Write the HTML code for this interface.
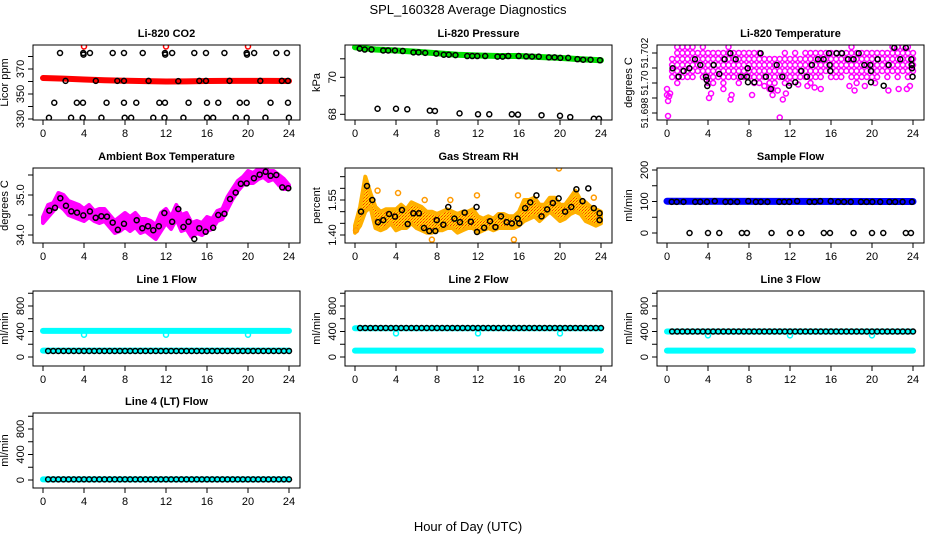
<!DOCTYPE html>
<html><head><meta charset="utf-8">
<style>
html,body{margin:0;padding:0;background:#fff;}
svg{display:block;font-family:"Liberation Sans",sans-serif;}
</style></head>
<body>
<svg id="fig" width="936" height="540" viewBox="0 0 936 540" xmlns="http://www.w3.org/2000/svg">
<defs>
<pattern id="rhpat" width="3" height="3" patternUnits="userSpaceOnUse">
<rect width="3" height="3" fill="#ffd400"/><rect width="1" height="1" fill="#ff2a00"/><rect x="1" y="2" width="1" height="1" fill="#ff4a00"/><rect x="2" y="1" width="1" height="1" fill="#ff8000"/>
</pattern>
</defs>
<text x="468" y="14" text-anchor="middle" font-size="13">SPL_160328  Average Diagnostics</text>
<text x="468" y="531" text-anchor="middle" font-size="13">Hour of Day (UTC)</text>
</svg>
<script>
// ---------- data ----------
var xTicks=[0,4,8,12,16,20,24];
// CO2
var co2BandHours=[0,2,4,6,8,10,12,14,16,18,20,22,24];
var co2BandVals=[362.8,362.3,361.6,361.0,360.6,360.3,360.0,360.1,360.4,360.5,360.5,360.5,360.4];
var co2PtHours=[1.66,3.93,3.95,4.58,6.8,7.9,9.73,11.9,11.92,12.6,14.76,15.9,17.7,19.87,19.9,20.6,22.76,23.8,
 2.2,5.15,7.25,7.9,10.3,13.2,15.25,15.9,18.2,21.2,23.3,23.9,
 1.1,3.3,3.9,6.2,7.9,9.1,11.35,11.9,14.2,16.0,17.1,19.2,19.87,22.2,23.9,
 0.58,2.74,3.87,5.7,7.97,8.6,10.76,11.85,13.7,16.0,16.6,18.8,19.87,21.7,23.99];
var co2PtVals=[382.8,382.8,381.5,382.8,382.8,382.8,382.8,382.8,381.5,382.8,382.8,382.8,382.8,382.8,381.5,382.8,382.8,382.8,
 360.5,360.5,360.5,360.5,360.5,360.3,360.5,360.5,360.5,360.5,360.5,360.5,
 343,343,343,343,343,343,343,343,343,343,343,343,343,343,343,
 331,331,331,331,331,331,331,331,331,331,331,331,331,331,331];
var co2RedHours=[4,12,20];
var co2RedVals=[388,388,388];
// Pressure
var presBandHours=[0,2,4,6,8,10,12,14,16,18,20,22,24];
var presBandVals=[71.62,71.5,71.45,71.38,71.3,71.22,71.18,71.15,71.15,71.1,71.05,70.98,70.92];
var presPtHours=[0.46,0.95,1.61,2.75,3.24,3.9,4.66,5.7,6.2,6.85,7.93,8.66,9.15,9.8,10.95,11.44,11.93,12.7,13.9,14.4,14.95,15.97,16.7,17.27,17.93,18.92,19.47,20.03,20.8,21.7,22.26,22.98,23.9,
 2.2,4.0,5.1,7.3,7.8,10.2,12.0,13.1,15.3,15.9,18.2,20.0,21.0,23.3,23.8];
var presPtVals=[71.55,71.5,71.5,71.45,71.45,71.45,71.42,71.35,71.35,71.32,71.28,71.22,71.22,71.2,71.15,71.15,71.15,71.15,71.12,71.12,71.15,71.15,71.13,71.12,71.12,71.08,71.08,71.05,71.05,70.98,70.95,70.95,70.92,
 68.3,68.3,68.27,68.2,68.18,68.05,68.0,68.0,68.0,67.98,67.95,67.92,67.85,67.76,67.76];
// Li-820 temperature
var tempHours=[0,0.5,1,1.5,2,2.5,3,3.5,4,4.5,5,5.5,6,6.5,7,7.5,8,8.5,9,9.5,10,10.5,11,11.5,12,12.5,13,13.5,14,14.5,15,15.5,16,16.5,17,17.5,18,18.5,19,19.5,20,20.5,21,21.5,22,22.5,23,23.5,24];
var tempLo=[51.6992,51.7004,51.7000,51.7004,51.7004,51.7004,51.7008,51.7004,51.7000,51.7000,51.7004,51.7000,51.7004,51.7004,51.7000,51.7004,51.7004,51.7000,51.7000,51.7004,51.6996,51.7000,51.7004,51.7000,51.7000,51.7004,51.7004,51.7004,51.7000,51.7004,51.7004,51.7008,51.7004,51.7004,51.7004,51.7008,51.7004,51.7000,51.7004,51.7004,51.7004,51.7004,51.7008,51.7004,51.7008,51.7004,51.7008,51.7004,51.7008];
var tempHi=[51.6996,51.7016,51.7024,51.7024,51.7024,51.7024,51.7020,51.7024,51.7020,51.7020,51.7020,51.7020,51.7024,51.7020,51.7020,51.7020,51.7020,51.7020,51.7020,51.7016,51.7016,51.7016,51.7016,51.7020,51.7016,51.7020,51.7016,51.7020,51.7020,51.7020,51.7020,51.7020,51.7020,51.7020,51.7020,51.7020,51.7024,51.7020,51.7020,51.7020,51.7020,51.7020,51.7020,51.7020,51.7024,51.7024,51.7024,51.7024,51.7020];
var tempOutHours=[0.1,0.2,0.3,0.1,4.3,4.1,5.5,6.3,6.2,8.3,9.5,10.3,10.3,11.0,11.3,11.6,10.8,14.4,15.0,17.8,18.3,19.3,21.6,22.6,23.4,23.7,20.3,12.8,13.7];
var tempOutVals=[51.6978,51.6991,51.6993,51.6988,51.6993,51.6990,51.6996,51.6992,51.6989,51.6992,51.6998,51.6996,51.6992,51.6977,51.6989,51.6993,51.6995,51.6997,51.6996,51.6998,51.6995,51.6998,51.6995,51.6996,51.6996,51.6998,51.7000,51.6999,51.6998];
var tempPtHours=[0.55,1.13,1.62,2.18,2.73,3.25,3.8,3.87,3.93,4.55,5.1,5.62,6.18,6.7,7.22,7.8,7.87,7.9,8.52,9.13,9.65,10.14,10.7,11.25,11.9,12.52,13.1,13.65,14.14,14.73,15.28,15.8,15.87,15.93,16.55,17.07,17.66,18.2,18.7,19.25,19.83,19.9,19.9,20.55,21.14,21.62,22.18,22.76,23.3,23.84,23.87,23.9,23.96];
var tempPtVals=[51.70098,51.70042,51.7008,51.70098,51.70158,51.7012,51.70042,51.7002,51.6998,51.7012,51.7006,51.70158,51.70198,51.70158,51.70042,51.70042,51.70098,51.70005,51.70005,51.70198,51.70042,51.6996,51.7012,51.70042,51.69982,51.70005,51.7008,51.70042,51.7012,51.70158,51.70158,51.70198,51.7012,51.7008,51.70198,51.70198,51.70158,51.70158,51.70198,51.7012,51.7012,51.7008,51.70005,51.70158,51.69982,51.7012,51.70235,51.70158,51.70235,51.70158,51.7012,51.70098,51.70042];
// Ambient box temperature
var ambHours=tempHours;
var ambLo=[34.3,34.45,34.6,34.75,34.65,34.5,34.45,34.4,34.35,34.45,34.35,34.3,34.35,34.2,34.05,34.1,34.2,34.1,34.2,34.05,34.1,34.0,33.9,34.1,34.3,34.15,34.4,34.1,34.15,33.95,34.05,34.0,34.1,34.15,34.35,34.4,34.65,34.9,35.1,35.25,35.3,35.3,35.4,35.45,35.35,35.4,35.25,35.15,35.15];
var ambHi=[34.45,34.75,34.8,35.05,35.0,34.85,34.8,34.75,34.65,34.75,34.6,34.65,34.65,34.5,34.35,34.45,34.55,34.45,34.55,34.4,34.4,34.35,34.25,34.55,34.65,34.45,34.75,34.5,34.55,34.3,34.35,34.3,34.45,34.4,34.6,34.65,34.95,35.15,35.35,35.45,35.6,35.55,35.65,35.7,35.6,35.6,35.5,35.4,35.25];
var ambPtHours=[0.62,1.17,1.69,2.24,2.76,3.32,3.93,4.58,5.14,5.69,6.24,6.8,7.3,7.9,9.14,9.69,10.24,10.76,11.3,11.84,12.6,13.2,13.7,14.2,14.76,15.25,15.87,16.6,17.1,17.7,18.25,18.8,19.3,19.87,20.58,21.14,21.72,22.2,22.76,23.34,23.93];
var ambPtVals=[34.61,34.68,34.92,34.73,34.59,34.56,34.49,34.59,34.43,34.47,34.46,34.31,34.13,34.28,34.37,34.17,34.22,34.12,34.22,34.55,34.33,34.65,34.2,34.33,33.9,34.17,34.08,34.18,34.5,34.53,34.9,35.06,35.28,35.29,35.42,35.51,35.58,35.48,35.5,35.19,35.17];
// Gas stream RH
var rhHours=tempHours;
var rhLo=[1.41,1.44,1.50,1.52,1.43,1.42,1.43,1.45,1.42,1.43,1.43,1.45,1.43,1.42,1.41,1.41,1.42,1.42,1.43,1.43,1.41,1.42,1.43,1.43,1.41,1.42,1.43,1.42,1.43,1.43,1.43,1.43,1.44,1.46,1.47,1.48,1.46,1.48,1.50,1.48,1.46,1.47,1.49,1.50,1.49,1.46,1.45,1.44,1.45];
var rhHi=[1.44,1.52,1.65,1.58,1.52,1.50,1.51,1.51,1.51,1.53,1.51,1.54,1.53,1.52,1.50,1.50,1.49,1.50,1.51,1.50,1.49,1.50,1.50,1.51,1.48,1.47,1.48,1.47,1.49,1.49,1.48,1.48,1.50,1.55,1.55,1.56,1.53,1.53,1.56,1.56,1.53,1.53,1.56,1.59,1.55,1.54,1.52,1.51,1.50];
var rhOutHours=[4.2,11.9,15.9,19.9,9.3,15.5,7.5,23.3,0.1,2.2,6.8];
var rhOutVals=[1.58,1.57,1.57,1.685,1.55,1.38,1.38,1.56,1.42,1.59,1.55];
var rhPtHours=[0.59,1.17,1.69,2.24,2.76,3.32,3.9,4.58,5.14,5.69,6.24,6.73,7.25,7.84,7.97,8.62,9.1,9.7,10.24,10.7,11.3,11.86,11.9,12.6,13.17,13.7,14.24,14.8,15.3,15.87,16.03,16.6,17.1,17.7,18.2,18.75,19.3,19.87,20.5,21.1,21.6,22.2,22.76,23.3,23.86,23.86];
var rhPtVals=[1.50,1.61,1.55,1.455,1.464,1.49,1.479,1.507,1.447,1.493,1.493,1.43,1.417,1.417,1.464,1.444,1.52,1.47,1.455,1.496,1.457,1.52,1.413,1.431,1.459,1.434,1.48,1.455,1.45,1.47,1.45,1.515,1.54,1.57,1.48,1.51,1.537,1.557,1.50,1.52,1.596,1.545,1.60,1.515,1.493,1.464];
// Sample flow
var sfBandHours=[0,24];
var sfBandVals=[101,100];
var sfPtHours=[0.46,0.95,1.61,2.75,3.24,3.9,4.66,5.7,6.2,6.85,7.93,8.66,9.15,9.8,10.95,11.44,11.93,12.7,13.9,14.4,14.95,15.97,16.7,17.27,17.93,18.92,19.47,20.03,20.8,21.7,22.26,22.98,23.9,
 2.2,4.0,5.1,7.3,7.8,10.2,12.0,13.1,15.3,15.9,18.2,20.0,21.1,23.3,23.8];
var sfPtVals=[99,99,99,99,99,99,101,99,99,99,101,99,99,99,99,99,99,101,99,99,101,101,99,99,99,99,99,99,99,99,99,99,99,
 0,0,0,0,0,0,0,0,0,0,0,0,0,0,0];
// Line flows
var flowHours=[0.5,1,1.5,2,2.5,3,3.5,4,4.5,5,5.5,6,6.5,7,7.5,8,8.5,9,9.5,10,10.5,11,11.5,12,12.5,13,13.5,14,14.5,15,15.5,16,16.5,17,17.5,18,18.5,19,19.5,20,20.5,21,21.5,22,22.5,23,23.5,24];
var line1Vals=[95,95,95,95,95,95,95,95,95,95,95,95,95,95,95,95,95,95,95,95,95,95,95,95,95,95,95,95,95,95,95,95,95,95,95,95,95,95,95,95,95,95,95,95,95,95,95,95];
var line2Vals=[455,455,455,455,455,455,455,455,455,455,455,455,455,455,455,455,455,455,455,455,455,455,455,455,455,455,455,455,455,455,455,455,455,455,455,455,455,455,455,455,455,455,455,455,455,455,455,455];
var line3Vals=[400,400,400,400,400,400,400,400,400,400,400,400,400,400,400,400,400,400,400,400,400,400,400,400,400,400,400,400,400,400,400,400,400,400,400,400,400,400,400,400,400,400,400,400,400,400,400,400];
var line4Vals=[10,10,10,10,10,10,10,10,10,10,10,10,10,10,10,10,10,10,10,10,10,10,10,10,10,10,10,10,10,10,10,10,10,10,10,10,10,10,10,10,10,10,10,10,10,10,10,10];
var cyanHours=[0,24];
var line1CyanHi=[410,410];
var line1CyanLo=[100,100];
var line2CyanHi=[450,450];
var line2CyanLo=[100,100];
var line3CyanHi=[400,400];
var line3CyanLo=[100,100];
var line4CyanLo=[10,10];
var dipHours=[4,12,20];
var line1Dips=[350,350,350];
var line2Dips=[370,370,370];
var line3Dips=[340,340,340];

// ---------- drawing ----------
var NS="http://www.w3.org/2000/svg";
var fig=document.getElementById('fig');
function mk(tag,attrs,parent){var e=document.createElementNS(NS,tag);for(var k in attrs)e.setAttribute(k,attrs[k]);(parent||fig).appendChild(e);return e;}
var colL=[33,345,657], rowT=[45,168,291,413], PW=267, PH=75;
var pid=0;
function panel(col,row,title,ylab,v0,y0,v1,y1,yt,ylabels,slug,tfs){
  var L=colL[col],T=rowT[row];
  var fs=tfs||11;
  var g=mk('g',{});
  
  
  pid++;
  var cp=mk('clipPath',{id:'cp'+pid},g);
  mk('rect',{x:L,y:T,width:PW,height:PH},cp);
  var sx=function(h){return L+10+h*10.25;};
  var sy=function(v){return T+y0+(v-v0)*(y1-y0)/(v1-v0);};
  var t=mk('text',{x:L+PW/2,y:T-8,'text-anchor':'middle','font-size':'11','font-weight':'bold'},g);
  t.textContent=title;
  
  
  var yl=mk('text',{x:0,y:0,transform:'translate('+(L-25)+','+(T+PH/2)+') rotate(-90)','text-anchor':'middle','font-size':'11'},g);
  yl.textContent=ylab;
  
  
  var B=T+PH;
  for(var i=0;i<xTicks.length;i++){
    var x=sx(xTicks[i]);
    mk('line',{x1:x,y1:B,x2:x,y2:B+5,stroke:'#000','stroke-width':1},g);
    var tl=mk('text',{x:x,y:B+17,'text-anchor':'middle','font-size':'11'},g);
    tl.textContent=xTicks[i];
    
    
  }
  for(var j=0;j<yt.length;j++){
    var y=sy(yt[j]);
    if(y<T-1||y>B+1)continue;
    mk('line',{x1:L-5,y1:y,x2:L,y2:y,stroke:'#000','stroke-width':1},g);
    if(ylabels[j]!==''){
      var yl2=mk('text',{x:0,y:0,transform:'translate('+(L-9)+','+y+') rotate(-90)','text-anchor':'middle','font-size':fs},g);
      yl2.textContent=ylabels[j];
      
      
    }
  }
  var plot=mk('g',{'clip-path':'url(#cp'+pid+')'},g);
  var box=mk('rect',{x:L,y:T,width:PW,height:PH,fill:'none',stroke:'#000','stroke-width':1},g);
  
  
  return {sx:sx,sy:sy,g:plot,box:box,parent:g};
}
function pts(p,hs,vs,color,name){
  for(var i=0;i<hs.length;i++){
    var c=mk('circle',{cx:p.sx(hs[i]),cy:p.sy(vs[i]),r:2.5,fill:'none',stroke:color,'stroke-width':1.5},p.g);
    
    
  }
}
function band(p,hs,vs,color,w,name){
  var d='';
  for(var i=0;i<hs.length;i++)d+=(i?'L':'M')+p.sx(hs[i]).toFixed(1)+' '+p.sy(vs[i]).toFixed(1);
  var e=mk('path',{d:d,fill:'none',stroke:color,'stroke-width':w,'stroke-linecap':'round','stroke-linejoin':'round'},p.g);
  
  
}
function area(p,hs,lo,hi,fill,stroke,name){
  var d='';
  for(var i=0;i<hs.length;i++)d+=(i?'L':'M')+p.sx(hs[i]).toFixed(1)+' '+p.sy(hi[i]).toFixed(1);
  for(var k=hs.length-1;k>=0;k--)d+='L'+p.sx(hs[k]).toFixed(1)+' '+p.sy(lo[k]).toFixed(1);
  d+='Z';
  var e=mk('path',{d:d,fill:fill,stroke:stroke,'stroke-width':4,'stroke-linejoin':'round'},p.g);
  
  
}

// Panel 1: CO2
var p1=panel(0,0,'Li-820 CO2','Licor ppm',330,74,370,24,[330,340,350,360,370,380],['330','','350','','370',''],'co2');
band(p1,co2BandHours,co2BandVals,'#ff0000',6,'co2-red-series');
pts(p1,co2RedHours,co2RedVals,'#ff0000','co2-red-point');
pts(p1,co2PtHours,co2PtVals,'#000','co2-black-point');
// Panel 2: Pressure
var p2=panel(1,0,'Li-820 Pressure','kPa',68,69.3,70,32.3,[68,69,70,71],['68','','70',''],'pressure');
band(p2,presBandHours,presBandVals,'#00e000',6,'pressure-green-series');
pts(p2,presPtHours,presPtVals,'#000','pressure-black-point');
// Panel 3: Li-820 Temperature
var p3=panel(2,0,'Li-820 Temperature','degrees C',51.698,68,51.702,8,[51.697,51.698,51.699,51.700,51.701,51.702],['','51.698','','51.70','','51.702'],'li820-temp',10);
for(var i=0;i<tempHours.length;i++){
  for(var v=tempLo[i];v<=tempHi[i]+1e-7;v+=0.0004){
    var c=mk('circle',{cx:p3.sx(tempHours[i]),cy:p3.sy(v),r:2.5,fill:'none',stroke:'#ff00ff','stroke-width':1.5},p3.g);
    
    
  }
}
pts(p3,tempOutHours,tempOutVals,'#ff00ff','temp-magenta-outlier');
pts(p3,tempPtHours,tempPtVals,'#000','temp-black-point');
// Panel 4: Ambient
var p4=panel(0,1,'Ambient Box Temperature','degrees C',34,67,35,27,[34,34.5,35,35.5],['34.0','','35.0',''],'ambient-temp');
area(p4,ambHours,ambLo,ambHi,'#ff00ff','#ff00ff','ambient-magenta-series');
pts(p4,ambPtHours,ambPtVals,'#000','ambient-black-point');
// Panel 5: RH
var p5=panel(1,1,'Gas Stream RH','percent',1.40,67,1.55,32,[1.40,1.45,1.50,1.55,1.60,1.65],['1.40','','','1.55','',''],'gas-rh');
area(p5,rhHours,rhLo,rhHi,'url(#rhpat)','#ffb000','rh-orange-series');
pts(p5,rhOutHours,rhOutVals,'#ff9a00','rh-orange-outlier');
pts(p5,rhPtHours,rhPtVals,'#000','rh-black-point');
// Panel 6: Sample flow
var p6=panel(2,1,'Sample Flow','ml/min',0,65,200,2,[0,50,100,150,200],['0','','100','','200'],'sample-flow');
band(p6,sfBandHours,sfBandVals,'#0000ff',7,'sample-blue-series');
pts(p6,sfPtHours,sfPtVals,'#000','sample-black-point');
// Flow panels
var fT=[0,200,400,600,800,1000], fL=['0','','400','','800',''];
var p7=panel(0,2,'Line 1 Flow','ml/min',0,66,800,15,fT,fL,'line1-flow');
band(p7,cyanHours,line1CyanHi,'#00ffff',6,'line1-cyan-high');
band(p7,cyanHours,line1CyanLo,'#00ffff',6,'line1-cyan-low');
pts(p7,dipHours,line1Dips,'#00ffff','line1-cyan-dip');
pts(p7,flowHours,line1Vals,'#000','line1-black-point');
var p8=panel(1,2,'Line 2 Flow','ml/min',0,66,800,15,fT,fL,'line2-flow');
band(p8,cyanHours,line2CyanHi,'#00ffff',6,'line2-cyan-high');
band(p8,cyanHours,line2CyanLo,'#00ffff',6,'line2-cyan-low');
pts(p8,dipHours,line2Dips,'#00ffff','line2-cyan-dip');
pts(p8,flowHours,line2Vals,'#000','line2-black-point');
var p9=panel(2,2,'Line 3 Flow','ml/min',0,66,800,15,fT,fL,'line3-flow');
band(p9,cyanHours,line3CyanHi,'#00ffff',6,'line3-cyan-high');
band(p9,cyanHours,line3CyanLo,'#00ffff',6,'line3-cyan-low');
pts(p9,dipHours,line3Dips,'#00ffff','line3-cyan-dip');
pts(p9,flowHours,line3Vals,'#000','line3-black-point');
var p10=panel(0,3,'Line 4 (LT) Flow','ml/min',0,67,800,16,fT,fL,'line4-flow');
band(p10,cyanHours,line4CyanLo,'#00ffff',6,'line4-cyan-low');
pts(p10,flowHours,line4Vals,'#000','line4-black-point');
</script>
</body></html>
